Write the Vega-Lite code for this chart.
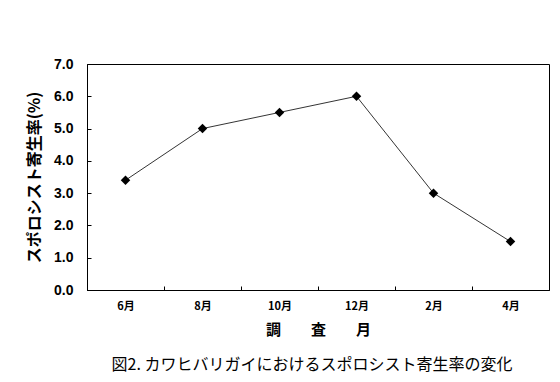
{
  "$schema": "https://vega.github.io/schema/vega-lite/v6.json",
  "width": 462,
  "height": 226,
  "autosize": {"type": "none"},
  "padding": {"left": 87, "top": 64, "right": 11, "bottom": 92},
  "background": "white",
  "title": {
    "text": "図2. カワヒバリガイにおけるスポロシスト寄生率の変化",
    "orient": "bottom",
    "anchor": "middle",
    "font": "Noto Sans CJK JP",
    "fontSize": 16,
    "fontWeight": "normal",
    "color": "black",
    "offset": 20,
    "dx": -6
  },
  "data": {
    "values": [
      {"month": "6月", "rate": 3.4},
      {"month": "8月", "rate": 5.0},
      {"month": "10月", "rate": 5.5},
      {"month": "12月", "rate": 6.0},
      {"month": "2月", "rate": 3.0},
      {"month": "4月", "rate": 1.5}
    ]
  },
  "config": {
    "view": {"stroke": "black", "strokeWidth": 1},
    "axis": {"domainColor": "black", "tickColor": "black", "labelColor": "black", "titleColor": "black", "grid": false}
  },
  "encoding": {
    "x": {
      "field": "month",
      "type": "nominal",
      "sort": null,
      "scale": {"paddingInner": 0, "paddingOuter": 0},
      "axis": {
        "title": "調　　査　　月",
        "labelAngle": 0,
        "tickBand": "extent",
        "tickSize": -4,
        "labelPadding": 14,
        "labelFont": "Noto Sans CJK JP",
        "labelFontWeight": "bold",
        "labelFontSize": 11,
        "titleFont": "Noto Sans CJK JP",
        "titleFontWeight": "bold",
        "titleFontSize": 15,
        "titlePadding": 11
      }
    },
    "y": {
      "field": "rate",
      "type": "quantitative",
      "scale": {"domain": [0, 7], "nice": false},
      "axis": {
        "title": "スポロシスト寄生率(%)",
        "values": [0, 1, 2, 3, 4, 5, 6, 7],
        "format": ".1f",
        "tickSize": -4,
        "labelPadding": 18,
        "labelFont": "Liberation Sans",
        "labelFontWeight": "bold",
        "labelFontSize": 14,
        "titleFont": "Noto Sans CJK JP",
        "titleFontWeight": "bold",
        "titleFontSize": 16,
        "titlePadding": 11
      }
    }
  },
  "layer": [
    {"mark": {"type": "line", "color": "black", "strokeWidth": 0.8}},
    {"mark": {"type": "point", "shape": "diamond", "filled": true, "color": "black", "opacity": 1, "size": 90}}
  ]
}
